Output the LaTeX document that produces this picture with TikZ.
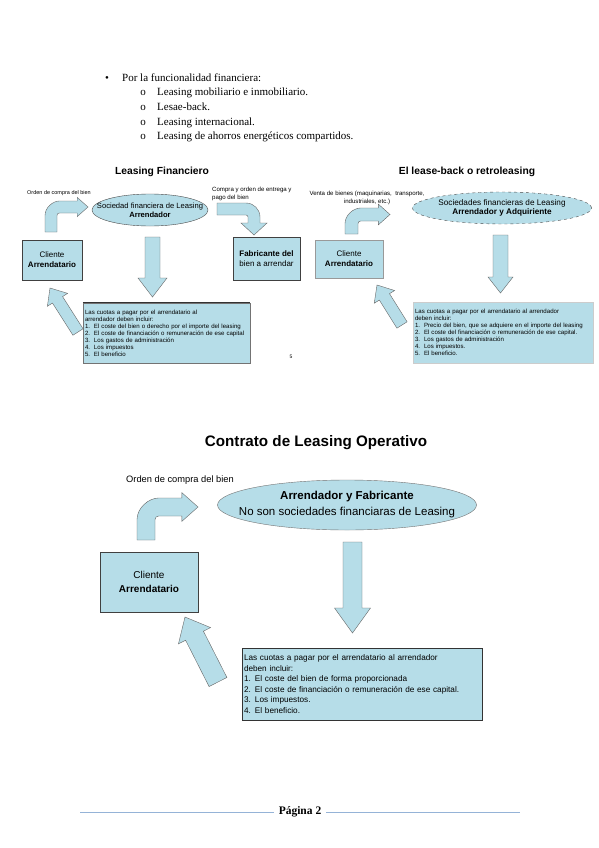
\documentclass[tikz,border=0pt]{standalone}
\usepackage{fontspec}
\setmainfont{Liberation Serif}
\setsansfont{Liberation Sans}
\usepackage{tikz}
\usetikzlibrary{positioning,shapes.geometric,calc}
\usepackage{xcolor}
\definecolor{lease}{HTML}{B6DDE8}
\definecolor{pagerule}{HTML}{95B3D7}
% straight block arrow: tail, tip, half shaft, half head, head length
\newcommand{\blockarrow}[5]{%
  \coordinate (ba-n) at ($(#2)!#5!(#1)$);
  \filldraw[arrowbody] ($(#1)!#3!90:(#2)$) -- ($(ba-n)!#3!-90:(#1)$) -- ($(ba-n)!#4!-90:(#1)$) -- (#2)
    -- ($(ba-n)!#4!90:(#1)$) -- ($(ba-n)!#3!90:(#1)$) -- ($(#1)!#3!-90:(#2)$) -- cycle;}
% bent block arrow, up then right: x0, y0, width, ytop, xtip
\newcommand{\bentarrow}[5]{%
  \filldraw[arrowbody] (#1,#2) -- (#1,{#4+1.2*#3}) .. controls (#1,{#4+0.54*#3}) and ({#1+0.66*#3},#4) .. ({#1+1.2*#3},#4)
    -- ({#5-0.9*#3},#4) -- ({#5-0.9*#3},{#4-0.3*#3}) -- (#5,{#4+0.5*#3}) -- ({#5-0.9*#3},{#4+1.3*#3})
    -- ({#5-0.9*#3},{#4+#3}) -- ({#1+1.2*#3},{#4+#3}) .. controls ({#1+1.09*#3},{#4+#3}) and ({#1+#3},{#4+1.09*#3}) .. ({#1+#3},{#4+1.2*#3})
    -- ({#1+#3},#2) -- cycle;}
\newcommand{\itemno}[1]{\makebox[9pt][l]{#1}}

\begin{document}
\begin{tikzpicture}[x=1pt,y=-1pt,
  box/.style={draw=black!75,fill=lease,inner sep=0pt,align=center},
  soc/.style={ellipse,draw=black!70,fill=lease,inner sep=0pt},
  cuota/.style={draw=black!55,fill=lease,inner xsep=2pt,inner ysep=1pt,align=left},
  arrowbody/.style={fill=lease,draw=black!60,line width=0.4pt},
  ttl/.style={font=\sffamily\bfseries\fontsize{10.3}{12}\selectfont},
  small/.style={font=\sffamily\fontsize{5.5}{7}\selectfont,inner sep=0pt,align=center},
  listtxt/.style={font=\rmfamily\fontsize{11}{13}\selectfont,inner sep=0pt,anchor=base west}]
\fill[white] (0,0) rectangle (599,848);
\useasboundingbox (0,0) rectangle (599,848);

% list
\node[listtxt,anchor=base] (b0) at (107,81.5) {\textbullet};
\node[listtxt] (li0) at (122,81.5) {Por la funcionalidad financiera:};
\node[listtxt,anchor=base] (b1) at (143,96) {o};
\node[listtxt] (li1) at (157,96) {Leasing mobiliario e inmobiliario.};
\node[listtxt,anchor=base] (b2) at (143,110.5) {o};
\node[listtxt] (li2) at (157,110.5) {Lesae-back.};
\node[listtxt,anchor=base] (b3) at (143,125) {o};
\node[listtxt] (li3) at (157,125) {Leasing internacional.};
\node[listtxt,anchor=base] (b4) at (143,139.5) {o};
\node[listtxt] (li4) at (157,139.5) {Leasing de ahorros energéticos compartidos.};

% Leasing financiero
\node[ttl] (ttl1) at (162,172) {Leasing Financiero};
\node[small] (orden1) at (59,193) {Orden de compra del bien};
\node[soc,minimum width=116,minimum height=32] (soc1) at (150,210) {};
\node[small,font=\sffamily\fontsize{7.6}{9}\selectfont] (soc1t) at (soc1) {Sociedad financiera de Leasing\\\textbf{Arrendador}};
\node[small,align=left,anchor=west,font=\sffamily\fontsize{6.1}{7.5}\selectfont] (compra1) at (212,194) {Compra y orden de entrega y\\pago del bien};
\node[box,minimum width=60,minimum height=40,font=\sffamily\fontsize{8}{10}\selectfont] (cli1) at (52,260) {Cliente\\\textbf{Arrendatario}};
\node[box,minimum width=67,minimum height=43,font=\sffamily\fontsize{8}{10}\selectfont] (fab1) at (266.5,258.5) {\textbf{Fabricante del}\\bien a arrendar};
\node[cuota,minimum width=167,minimum height=60,text width=163,font=\sffamily\fontsize{6.1}{7}\selectfont] (cuo1) at (166.5,333) {Las cuotas a pagar por el arrendatario al\\arrendador deben incluir:\\
  \itemno{1.}El coste del bien o derecho por el importe del leasing\\
  \itemno{2.}El coste de financiación o remuneración de ese capital\\
  \itemno{3.}Los gastos de administración\\
  \itemno{4.}Los impuestos\\
  \itemno{5.}El beneficio};
\draw[black!80,line width=1pt] (cuo1.north west) -- (cuo1.north east);
\node[small,font=\sffamily\fontsize{5}{6}\selectfont] (p5) at (291,357) {5};
\bentarrow{45}{232}{12}{201}{88}
\filldraw[arrowbody] (217,203) -- (246,203) .. controls (253.7,203) and (260,209.3) .. (260,217) -- (260,223) -- (267,223)
  -- (254,235) -- (241,223) -- (248,223) -- (248,217) .. controls (248,215.9) and (247.1,215) .. (246,215) -- (217,215) -- cycle;
\coordinate (d1s) at (152.5,237);
\coordinate (d1e) at (152.5,297);
\blockarrow{d1s}{d1e}{7.5pt}{14.5pt}{19pt}
\coordinate (u1s) at (78,332);
\coordinate (u1e) at (50,288);
\blockarrow{u1s}{u1e}{6pt}{12pt}{14pt}

% lease-back
\node[ttl] (ttl2) at (467,172) {El lease-back o retroleasing};
\node[small,font=\sffamily\fontsize{6.1}{8}\selectfont] (venta2) at (367,197.5) {Venta de bienes (maquinarias, \ transporte,\\industriales, etc.)};
\node[soc,dashed,minimum width=179,minimum height=32] (soc2) at (502,208) {};
\node[small,font=\sffamily\fontsize{8.2}{9.5}\selectfont] (soc2t) at (soc2) {Sociedades financieras de Leasing\\\textbf{Arrendador y Adquiriente}};
\node[box,draw=black!40,minimum width=68,minimum height=38,font=\sffamily\fontsize{8}{10}\selectfont] (cli2) at (349,259) {Cliente\\\textbf{Arrendatario}};
\node[cuota,draw=black!20,minimum width=180,minimum height=61,text width=176,font=\sffamily\fontsize{6.1}{7}\selectfont] (cuo2) at (503,332.5) {Las cuotas a pagar por el arrendatario al arrendador\\deben incluir:\\
  \itemno{1.}Precio del bien, que se adquiere en el importe del leasing\\
  \itemno{2.}El coste del financiación o remuneración de ese capital.\\
  \itemno{3.}Los gastos de administración\\
  \itemno{4.}Los impuestos.\\
  \itemno{5.}El beneficio.};
\bentarrow{345}{234}{13}{208}{390}
\coordinate (d2s) at (500.5,235);
\coordinate (d2e) at (500.5,293);
\blockarrow{d2s}{d2e}{7.5pt}{12.5pt}{16pt}
\coordinate (u2s) at (402,325);
\coordinate (u2e) at (377,285);
\blockarrow{u2s}{u2e}{6pt}{12pt}{14pt}

% leasing operativo
\node[font=\sffamily\bfseries\fontsize{15.2}{18}\selectfont] (ttl3) at (316,443) {Contrato de Leasing Operativo};
\node[small,font=\sffamily\fontsize{9.3}{11}\selectfont] (orden3) at (180,480) {Orden de compra del bien};
\node[soc,draw=black!55,minimum width=259,minimum height=50] (soc3) at (347,505) {};
\node[small,font=\sffamily\fontsize{11.5}{16}\selectfont] (soc3t) at (soc3) {\textbf{Arrendador y Fabricante}\\No son sociedades financiaras de Leasing};
\node[box,minimum width=98,minimum height=60,font=\sffamily\fontsize{10}{14}\selectfont] (cli3) at (149,582) {Cliente\\\textbf{Arrendatario}};
\node[cuota,draw=black!80,minimum width=240,minimum height=72,text width=236,font=\sffamily\fontsize{8.2}{10.6}\selectfont] (cuo3) at (362,684) {Las cuotas a pagar por el arrendatario al arrendador\\deben incluir:\\
  1. El coste del bien de forma proporcionada\\
  2. El coste de financiación o remuneración de ese capital.\\
  3. Los impuestos.\\
  4. El beneficio.};
\bentarrow{137}{540}{18}{498}{198}
\coordinate (d3s) at (352.5,542);
\coordinate (d3e) at (352.5,633);
\blockarrow{d3s}{d3e}{9.5pt}{18pt}{25pt}
\coordinate (u3s) at (218,682);
\coordinate (u3e) at (185,617);
\blockarrow{u3s}{u3e}{10pt}{18pt}{21pt}

% pie de pagina
\node[font=\rmfamily\bfseries\fontsize{11.5}{13}\selectfont,inner sep=5pt] (pag) at (300,812) {Página 2};
\coordinate (fl) at (80,812);
\coordinate (fr) at (520,812);
\draw[pagerule,line width=0.8pt] (fl) -- (pag.west);
\draw[pagerule,line width=0.8pt] (pag.east) -- (fr);
\end{tikzpicture}
\end{document}
